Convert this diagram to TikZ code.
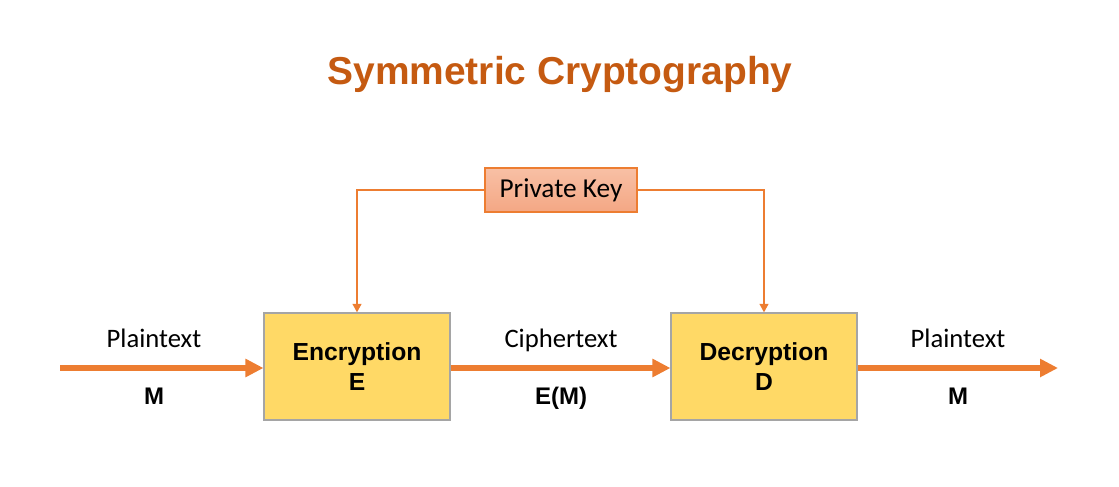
\documentclass[tikz,border=0pt]{standalone}
\usepackage{fontspec}
\setmainfont{Carlito}
\newfontfamily\headfont{Liberation Sans}
\usetikzlibrary{arrows.meta, positioning}

\definecolor{keyline}{RGB}{237,125,49}
\definecolor{titlecol}{RGB}{197,90,17}
\definecolor{boxfill}{RGB}{255,217,102}
\definecolor{boxline}{RGB}{165,165,165}
\definecolor{keytop}{RGB}{248,192,165}
\definecolor{keybot}{RGB}{244,167,132}

\begin{document}
\begin{tikzpicture}[x=0.75pt, y=-0.75pt,
  stage/.style={draw=boxline, line width=0.8pt, fill=boxfill, minimum width=139.5pt,
    minimum height=80.25pt, inner sep=0pt, align=center,
    font=\headfont\bfseries\fontsize{18.5}{22.5}\selectfont},
  keybox/.style={draw=keyline, line width=0.8pt, top color=keytop, bottom color=keybot,
    minimum width=114pt, minimum height=33pt, inner sep=0pt,
    font=\fontsize{20.5}{24}\selectfont},
  label/.style={anchor=base, font=\fontsize{20}{24}\selectfont},
  sym/.style={anchor=base, font=\headfont\bfseries\fontsize{18}{22}\selectfont},
  flow/.style={draw=keyline, line width=4.3pt, -{Triangle[length=13.5pt, width=13pt]}},
  keyflow/.style={draw=keyline, line width=2.2pt, -{Triangle[length=6.5pt, width=6.5pt]}}]
  \useasboundingbox (0,0) rectangle (1119,486);

  \node[text=titlecol, font=\headfont\bfseries\fontsize{29.2}{34}\selectfont] (title) at (560,75) {Symmetric Cryptography};

  \node[keybox] (key) at (561,190) {Private Key};
  \node[stage] (enc) at (357,366.5) {Encryption\\E};
  \node[stage] (dec) at (764,366.5) {Decryption\\D};

  \coordinate (in) at (60,368);
  \coordinate (out) at (1058,368);

  % message path
  \draw[flow] (in) -- (enc.west |- in);
  \draw[flow] (enc.east |- in) -- (dec.west |- in);
  \draw[flow] (dec.east |- in) -- (out);

  % shared key
  \draw[keyflow] (key.west) -| (enc.north);
  \draw[keyflow] (key.east) -| (dec.north);

  \node[label] (plainin) at (154,347) {Plaintext};
  \node[sym] (msgin) at (154,404) {M};
  \node[label] (cipher) at (561,347) {Ciphertext};
  \node[sym] (encmsg) at (561,404) {E(M)};
  \node[label] (plainout) at (958,347) {Plaintext};
  \node[sym] (msgout) at (958,404) {M};
\end{tikzpicture}
\end{document}
